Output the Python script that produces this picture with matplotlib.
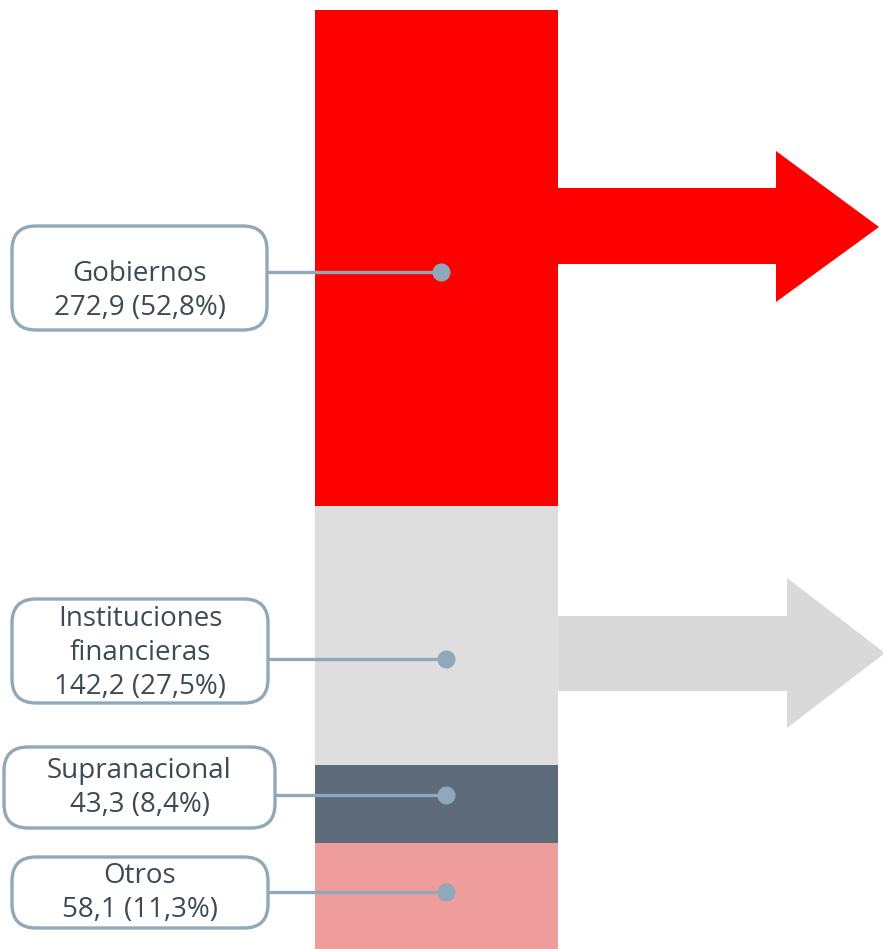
import matplotlib.pyplot as plt
from matplotlib.patches import FancyBboxPatch, Polygon

# data
categories = ['Otros', 'Supranacional', 'Instituciones\nfinancieras', 'Gobiernos']
values = [58.1, 43.3, 142.2, 272.9]
shares = ['11,3%', '8,4%', '27,5%', '52,8%']
colors = ['#EE9C9C', '#5C6A7A', '#DEDEDE', '#FF0000']

total = sum(values)
W, H = 883, 949
top_px, bot_px = 10, 949
per_px = total / (bot_px - top_px)

fig = plt.figure(figsize=(W / 100, H / 100), dpi=100)
ax = fig.add_axes([0, 0, 1, 1])
ax.set_xlim(0, W)
ax.set_ylim(0, total + top_px * per_px)
ax.axis('off')

# stacked bar
bottom = 0
for v, c in zip(values, colors):
    ax.bar(436.5, v, width=243, bottom=bottom, color=c, linewidth=0, zorder=2)
    bottom += v

# overlay in pixel coords for arrows and callouts
ov = fig.add_axes([0, 0, 1, 1], facecolor='none')
ov.set_xlim(0, W)
ov.set_ylim(H, 0)
ov.axis('off')

red_arrow = [(558, 188), (776, 188), (776, 151), (879, 227), (776, 302), (776, 264), (558, 264)]
grey_arrow = [(558, 616), (787, 616), (787, 578), (885, 653), (787, 728), (787, 691), (558, 691)]
ov.add_patch(Polygon(red_arrow, closed=True, color='#FF0000', lw=0, zorder=1))
ov.add_patch(Polygon(grey_arrow, closed=True, color='#D9D9D9', lw=0, zorder=1))

edge = '#8FA8BA'
txt_col = '#3D4A54'
# (box x0, x1, y0, y1, text y, dot x, line y) for each category, bottom-up order
boxes = [
    (12, 268, 857, 928, 893, 446, 892),
    (4, 275, 747, 828, 788, 446, 795),
    (12, 268, 599, 703, 653, 446, 659),
    (12, 267, 226, 330, 291, 441, 272),
]
rad = 24
for cat, v, s, b in zip(categories, values, shares, boxes):
    x0, x1, y0, y1, ty, dx, ly = b
    ov.add_patch(FancyBboxPatch((x0 + rad, y0 + rad), x1 - x0 - 2 * rad, y1 - y0 - 2 * rad,
                                boxstyle=f'round,pad={rad}', fc='white', ec=edge, lw=2.4, zorder=4))
    ov.plot([x1, dx], [ly, ly], color=edge, lw=2.4, zorder=5, solid_capstyle='butt')
    ov.plot(dx, ly, 'o', ms=12, color=edge, zorder=6)
    label = f"{cat}\n{v:.1f} ({s})".replace('.', ',')
    ov.text((x0 + x1) / 2, ty, label, ha='center', va='center', fontsize=20,
            family='Open Sans', color=txt_col, linespacing=1.28, zorder=7)

fig.savefig('out.png', dpi=100)
